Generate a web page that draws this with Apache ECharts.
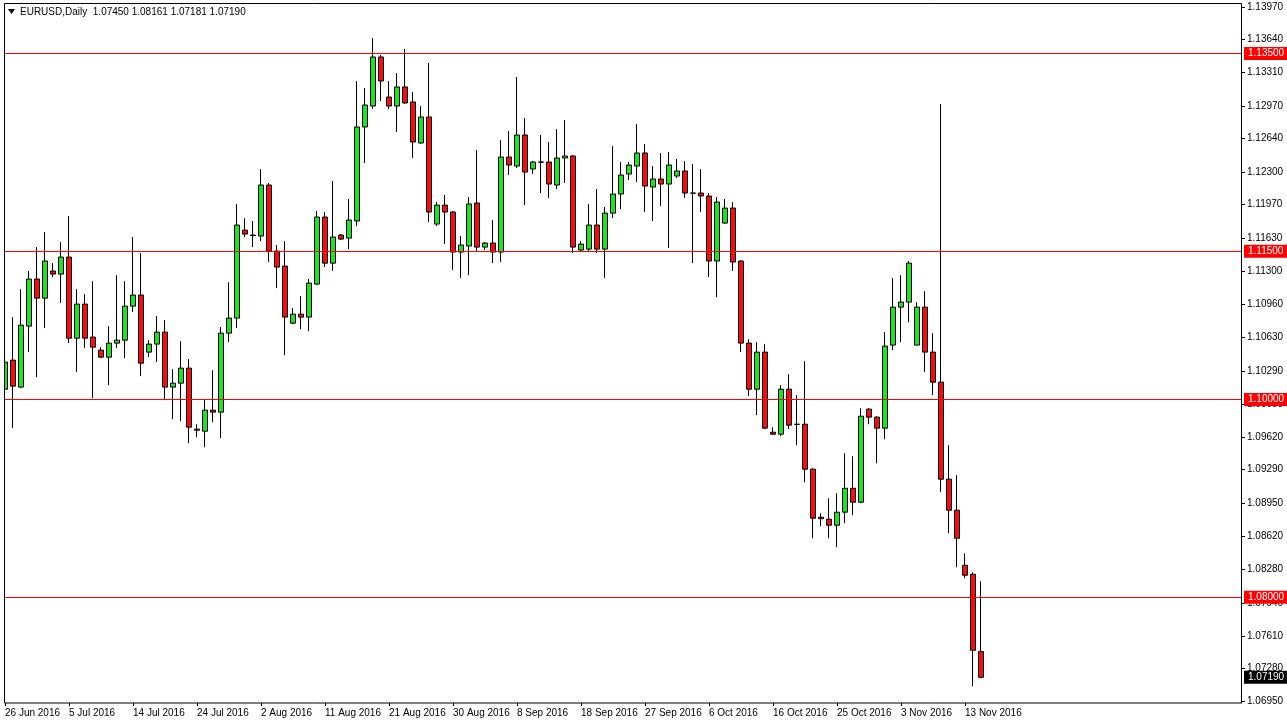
<!DOCTYPE html>
<html>
<head>
<meta charset="utf-8">
<script src="https://cdn.jsdelivr.net/npm/echarts@6/dist/echarts.min.js"></script>
<style>
html,body{margin:0;padding:0;background:#fff;}
#chart{width:1287px;height:726px;}
</style>
</head>
<body>
<div id="chart"></div>
<script>
const dates = ["26 Jun 2016","27 Jun 2016","28 Jun 2016","29 Jun 2016","30 Jun 2016",
"1 Jul 2016","3 Jul 2016","4 Jul 2016","5 Jul 2016","6 Jul 2016","7 Jul 2016","8 Jul 2016","10 Jul 2016","11 Jul 2016","12 Jul 2016","13 Jul 2016","14 Jul 2016","15 Jul 2016","17 Jul 2016","18 Jul 2016","19 Jul 2016","20 Jul 2016","21 Jul 2016","22 Jul 2016","24 Jul 2016","25 Jul 2016","26 Jul 2016","27 Jul 2016","28 Jul 2016","29 Jul 2016","31 Jul 2016",
"1 Aug 2016","2 Aug 2016","3 Aug 2016","4 Aug 2016","5 Aug 2016","7 Aug 2016","8 Aug 2016","9 Aug 2016","10 Aug 2016","11 Aug 2016","12 Aug 2016","14 Aug 2016","15 Aug 2016","16 Aug 2016","17 Aug 2016","18 Aug 2016","19 Aug 2016","21 Aug 2016","22 Aug 2016","23 Aug 2016","24 Aug 2016","25 Aug 2016","26 Aug 2016","28 Aug 2016","29 Aug 2016","30 Aug 2016","31 Aug 2016",
"1 Sep 2016","2 Sep 2016","4 Sep 2016","5 Sep 2016","6 Sep 2016","7 Sep 2016","8 Sep 2016","9 Sep 2016","11 Sep 2016","12 Sep 2016","13 Sep 2016","14 Sep 2016","15 Sep 2016","16 Sep 2016","18 Sep 2016","19 Sep 2016","20 Sep 2016","21 Sep 2016","22 Sep 2016","23 Sep 2016","25 Sep 2016","26 Sep 2016","27 Sep 2016","28 Sep 2016","29 Sep 2016","30 Sep 2016",
"2 Oct 2016","3 Oct 2016","4 Oct 2016","5 Oct 2016","6 Oct 2016","7 Oct 2016","9 Oct 2016","10 Oct 2016","11 Oct 2016","12 Oct 2016","13 Oct 2016","14 Oct 2016","16 Oct 2016","17 Oct 2016","18 Oct 2016","19 Oct 2016","20 Oct 2016","21 Oct 2016","23 Oct 2016","24 Oct 2016","25 Oct 2016","26 Oct 2016","27 Oct 2016","28 Oct 2016","30 Oct 2016","31 Oct 2016",
"1 Nov 2016","2 Nov 2016","3 Nov 2016","4 Nov 2016","6 Nov 2016","7 Nov 2016","8 Nov 2016","9 Nov 2016","10 Nov 2016","11 Nov 2016","13 Nov 2016","14 Nov 2016","15 Nov 2016"];

const open = [1.10104,1.10398,1.10125,1.10742,1.11218,1.11025,1.11299,1.11268,1.11440,1.10620,
1.10965,1.10631,1.10499,1.10428,1.10570,1.10600,1.10944,1.11056,1.10479,1.10560,
1.10681,1.10125,1.10165,1.10317,1.09700,1.09679,1.09892,1.09872,1.10671,1.10823,
1.11713,1.11663,1.11653,1.12169,1.11501,1.11349,1.10772,1.10863,1.10833,1.11167,
1.11845,1.11379,1.11663,1.11632,1.11805,1.12756,1.12968,1.13464,1.13059,1.12968,
1.13161,1.13009,1.12594,1.12857,1.11774,1.11966,1.11896,1.11491,1.11552,1.11987,
1.11541,1.11582,1.11491,1.12452,1.12361,1.12675,1.12331,1.12402,1.12402,1.12169,
1.12442,1.12462,1.11511,1.11521,1.11764,1.11521,1.11885,1.12078,1.12280,1.12361,
1.12493,1.12149,1.12230,1.12179,1.12260,1.12311,1.12088,1.12088,1.12058,1.11400,
1.11784,1.11936,1.11400,1.10570,1.10104,1.10479,1.09669,1.09649,1.10104,1.09750,
1.09750,1.09295,1.08809,1.08789,1.08728,1.08860,1.09102,1.08961,1.09902,1.09821,
1.09710,1.10550,1.10934,1.10985,1.10550,1.10934,1.10479,1.10175,1.09194,1.08880,
1.08323,1.08232,1.07450];

const close = [1.10378,1.10135,1.10752,1.11218,1.11025,1.11400,1.11268,1.11440,1.10620,1.10965,
1.10620,1.10529,1.10428,1.10570,1.10600,1.10944,1.11056,1.10367,1.10560,1.10681,
1.10125,1.10165,1.10317,1.09720,1.09689,1.09892,1.09872,1.10671,1.10823,1.11764,
1.11673,1.11658,1.12169,1.11501,1.11339,1.10833,1.10863,1.10833,1.11177,1.11845,
1.11379,1.11643,1.11622,1.11815,1.12756,1.12978,1.13464,1.13221,1.12968,1.13161,
1.12999,1.12604,1.12857,1.11896,1.11966,1.11896,1.11491,1.11562,1.11977,1.11541,
1.11582,1.11491,1.12452,1.12371,1.12675,1.12300,1.12402,1.12400,1.12179,1.12442,
1.12462,1.11541,1.11572,1.11764,1.11521,1.11885,1.12078,1.12270,1.12371,1.12493,
1.12159,1.12230,1.12179,1.12371,1.12311,1.12088,1.12086,1.12058,1.11400,1.11997,
1.11936,1.11390,1.10570,1.10104,1.10479,1.09710,1.09649,1.10104,1.09740,1.09748,
1.09295,1.08799,1.08794,1.08728,1.08860,1.09102,1.08961,1.09831,1.09821,1.09710,
1.10540,1.10934,1.10985,1.11379,1.10934,1.10479,1.10175,1.09194,1.08880,1.08596,
1.08222,1.07463,1.07190];

const low = [1.10044,1.09710,1.10114,1.10479,1.10226,1.10722,1.11238,1.10975,1.10570,1.10276,
1.10519,1.10013,1.10418,1.10145,1.10519,1.10418,1.10884,1.10236,1.10428,1.10378,
1.09993,1.09801,1.09781,1.09558,1.09619,1.09517,1.09770,1.09608,1.10580,1.10722,
1.11643,1.11541,1.11602,1.11390,1.11126,1.10448,1.10762,1.10711,1.10691,1.11157,
1.11339,1.11299,1.11612,1.11521,1.11754,1.12391,1.12938,1.13019,1.12938,1.12705,
1.12989,1.12442,1.12584,1.11794,1.11754,1.11572,1.11309,1.11228,1.11258,1.11491,
1.11511,1.11379,1.11390,1.12270,1.12341,1.11966,1.12280,1.12088,1.12037,1.12128,
1.12189,1.11481,1.11491,1.11491,1.11481,1.11228,1.11835,1.11926,1.12219,1.12199,
1.11896,1.11805,1.11956,1.11531,1.12240,1.12037,1.11379,1.11896,1.11238,1.11035,
1.11774,1.11299,1.10479,1.10034,1.09841,1.09700,1.09639,1.09629,1.09700,1.09538,
1.09163,1.08596,1.08718,1.08596,1.08505,1.08748,1.08829,1.08951,1.09750,1.09355,
1.09598,1.10499,1.10580,1.10782,1.10550,1.10276,1.10044,1.09062,1.08647,1.08303,
1.08192,1.07099,1.07181];

const high = [1.10752,1.10833,1.11116,1.11299,1.11541,1.11693,1.11379,1.11592,1.11855,1.11116,
1.11066,1.11197,1.10529,1.10742,1.11258,1.11197,1.11643,1.11481,1.10600,1.10843,
1.10803,1.10307,1.10590,1.10408,1.09750,1.10003,1.10297,1.10732,1.11187,1.11977,
1.11835,1.11805,1.12331,1.12189,1.11562,1.11602,1.10924,1.11045,1.11218,1.11906,
1.11896,1.12209,1.11673,1.12027,1.13221,1.13150,1.13656,1.13484,1.13221,1.13302,
1.13545,1.13110,1.12968,1.13403,1.11997,1.12068,1.11906,1.11653,1.12047,1.12523,
1.11592,1.11815,1.12624,1.12715,1.13262,1.12847,1.12412,1.12675,1.12604,1.12736,
1.12827,1.12472,1.11602,1.11977,1.12128,1.11946,1.12564,1.12402,1.12402,1.12786,
1.12584,1.12361,1.12493,1.12503,1.12432,1.12412,1.12381,1.12331,1.12088,1.12047,
1.12027,1.11997,1.11410,1.10610,1.10580,1.10560,1.09720,1.10145,1.10256,1.10044,
1.10388,1.09305,1.08849,1.09001,1.09052,1.09457,1.09426,1.09912,1.09912,1.09831,
1.10681,1.11228,1.11258,1.11400,1.10985,1.11096,1.10671,1.12989,1.09538,1.09234,
1.08445,1.08252,1.08161];

const yTicks = [1.0695,1.0728,1.0761,1.0794,1.0828,1.0862,1.0895,1.0929,1.0962,1.0995,1.1029,
1.1063,1.1096,1.1130,1.1163,1.1197,1.1230,1.1264,1.1297,1.1331,1.1364,1.1397];

const levels = [1.1350, 1.1150, 1.1000, 1.0800];
const lastPrice = 1.07190;
const headerText = "EURUSD,Daily  1.07450 1.08161 1.07181 1.07190";

// build library structures
const padCount = 32;
const cats = dates.concat(new Array(padCount).fill(''));
const ohlc = dates.map((d, i) => [open[i], close[i], low[i], high[i]]);

const FONT = 'Liberation Sans';
const RED = '#ff0000';

const tagLabel = (bg) => ({
  show: true,
  position: 'end',
  distance: 3,
  formatter: p => p.value.toFixed(5),
  fontSize: 10,
  fontFamily: FONT,
  color: '#ffffff',
  backgroundColor: bg,
  padding: [2, 4, 1, 4],
  lineHeight: 10
});

const realTick = (idx) => idx % 8 === 0 && idx < dates.length;

const chart = echarts.init(document.getElementById('chart'), null, {renderer: 'canvas'});
chart.setOption({
  animation: false,
  backgroundColor: '#ffffff',
  grid: {left: 1, right: 46, top: 4, bottom: 23, containLabel: false},
  xAxis: {
    type: 'category',
    data: cats,
    boundaryGap: true,
    axisLine: {show: false},
    axisTick: {show: true, interval: realTick, alignWithLabel: true, length: 3, lineStyle: {color: '#000'}},
    axisLabel: {show: true, interval: realTick, align: 'left', margin: 5, color: '#000', fontSize: 10, fontFamily: FONT},
    splitLine: {show: false}
  },
  yAxis: {
    type: 'value',
    position: 'right',
    min: 1.0693,
    max: 1.1400,
    scale: true,
    axisLine: {show: true, lineStyle: {color: '#000', width: 1}},
    axisTick: {show: true, length: 4, inside: false, customValues: yTicks, lineStyle: {color: '#000'}},
    axisLabel: {show: true, customValues: yTicks, margin: 6, color: '#000', fontSize: 10, fontFamily: FONT,
      formatter: v => v.toFixed(5)},
    splitLine: {show: false}
  },
  series: [
    {
      type: 'candlestick',
      name: 'EURUSD',
      data: ohlc,
      barWidth: 5,
      clip: true,
      z: 3,
      itemStyle: {
        color: '#22e022',
        color0: '#ee1111',
        borderColor: '#000000',
        borderColor0: '#000000',
        borderWidth: 1
      }
    },
    {
      type: 'line',
      name: 'levels',
      data: [],
      z: 4,
      markLine: {
        silent: true,
        animation: false,
        symbol: ['none', 'none'],
        precision: 5,
        lineStyle: {color: RED, width: 1, type: 'solid', opacity: 1},
        emphasis: {disabled: true},
        label: tagLabel(RED),
        data: levels.map(v => ({yAxis: v}))
      }
    },
    {
      type: 'line',
      name: 'last',
      data: [],
      z: 5,
      markLine: {
        silent: true,
        animation: false,
        symbol: ['none', 'none'],
        precision: 5,
        lineStyle: {color: 'rgba(0,0,0,0)', width: 1, type: 'solid'},
        emphasis: {disabled: true},
        label: tagLabel('#000000'),
        data: [{yAxis: lastPrice}]
      }
    }
  ],
  graphic: [
    {type: 'rect', shape: {x: 0, y: 0, width: 4, height: 726}, style: {fill: '#fff'}, z: 100},
    {type: 'rect', shape: {x: 4.5, y: 3.5, width: 1237, height: 699.5}, style: {fill: 'none', stroke: '#000', lineWidth: 1}, z: 101},
    {type: 'polygon', shape: {points: [[8, 9], [15, 9], [11.5, 14]]}, style: {fill: '#000'}, z: 102},
    {type: 'text', x: 20, y: 7, style: {text: headerText, fill: '#000', font: '10px "Liberation Sans"'}, z: 102}
  ]
});
</script>
</body>
</html>
